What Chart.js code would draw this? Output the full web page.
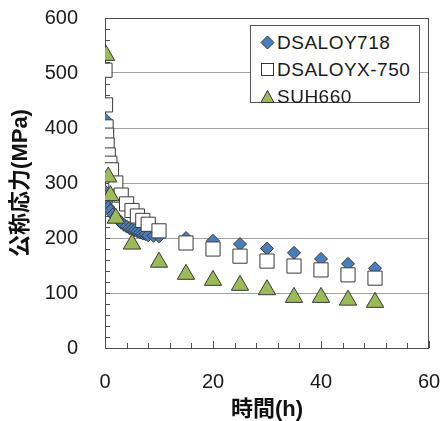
<!DOCTYPE html>
<html>
<head>
<meta charset="utf-8">
<script src="https://cdn.jsdelivr.net/npm/chart.js@4"></script>
<style>
    body { margin: 0; background: #fff; }
    #wrap { position: relative; width: 448px; height: 421px; }
    #legend {
        position: absolute; left: 250px; top: 25px; width: 170px; height: 78px;
        border: 1px solid #555; background: #fff; padding-top: 3px; box-sizing: border-box;
        font-family: 'Liberation Sans', Arial, sans-serif; font-size: 19px; color: #1a1a1a;
    }
    #legend .row { height: 27px; display: flex; align-items: center; padding-left: 9px; letter-spacing: 0.5px; }
    #legend svg { margin-right: 2px; flex: none; }
</style>
</head>
<body>
<div id="wrap">
    <canvas id="chart" width="448" height="421"></canvas>
    <div id="legend">
        <div class="row"><svg width="15" height="15"><polygon points="7.5,1 14,7.5 7.5,14 1,7.5" fill="#4a7ebb" stroke="#333" stroke-width="1"/></svg>DSALOY718</div>
        <div class="row"><svg width="15" height="15"><rect x="1.5" y="1.5" width="12" height="12" fill="#fff" stroke="#333" stroke-width="1"/></svg>DSALOYX-750</div>
        <div class="row"><svg width="15" height="15"><polygon points="7.5,1.5 14,13.5 1,13.5" fill="#9bbb59" stroke="#333" stroke-width="1"/></svg>SUH660</div>
    </div>
</div>
<script>
document.addEventListener('DOMContentLoaded', () => {

    // 読み取った値 (時間 h, 公称応力 MPa)
    const seriesNames = ['DSALOY718', 'DSALOYX-750', 'SUH660'];

    const dsaloy718Hours = [0.1, 0, 0.1, 0.3, 0.6, 1, 1.5, 2, 2.5, 3, 3.5, 4, 4.5, 5, 5.5, 6, 6.5, 7, 7.5, 8, 9, 10, 15, 20, 25, 30, 35, 40, 45, 50];
    const dsaloy718Stress = [415, 285, 275, 265, 256, 250, 243, 238, 233, 228, 224, 221, 218, 216, 214, 212, 210, 208, 207, 205, 204, 203, 200, 195, 189, 181, 173, 162, 153, 145];

    const dsaloyX750Hours = [0, 0.1, 0.2, 0.3, 0.4, 0.6, 0.9, 1.2, 2, 3, 4, 5, 6, 7, 8, 10, 15, 20, 25, 30, 35, 40, 45, 50];
    const dsaloyX750Stress = [505, 442, 402, 387, 369, 351, 336, 324, 300, 278, 262, 250, 240, 232, 225, 213, 191, 180, 167, 158, 149, 142, 133, 127];

    const suh660Hours = [0.2, 0.6, 1, 2, 5, 10, 15, 20, 25, 30, 35, 40, 45, 50];
    const suh660Stress = [532, 311, 277, 236, 189, 156, 134, 123, 114, 106, 92, 92, 87, 83];

    const xTicks = [0, 20, 40, 60];
    const yTicks = [0, 100, 200, 300, 400, 500, 600];

    const toPoints = (xs, ys) => xs.map((x, i) => ({ x: x, y: ys[i] }));

    const edge = '#4d4d4d';
    const labelFont = { family: "'Liberation Sans', Arial, sans-serif", size: 20 };
    const titleFont = { family: "'Liberation Sans', 'Noto Sans CJK JP', sans-serif", size: 22, weight: 'bold', lineHeight: 1 };

    // 枠線と内向きの目盛り
    const frameTicks = {
        id: 'frameTicks',
        beforeDatasetsDraw(chart) {
            const { ctx, chartArea: a, scales: { x, y } } = chart;
            ctx.save();
            ctx.strokeStyle = edge;
            ctx.lineWidth = 1;
            ctx.strokeRect(Math.round(a.left) + 0.5, Math.round(a.top) + 0.5,
                Math.round(a.right - a.left) - 1, Math.round(a.bottom - a.top));
            ctx.beginPath();
            for (let v = 0; v <= 600; v += 20) {
                const py = Math.round(y.getPixelForValue(v)) + 0.5;
                ctx.moveTo(a.left, py);
                ctx.lineTo(a.left + 5, py);
            }
            for (let h = 0; h <= 60; h += 4) {
                const px = Math.round(x.getPixelForValue(h)) + 0.5;
                const len = h % 20 === 0 ? 7 : 5;
                ctx.moveTo(px, a.bottom);
                ctx.lineTo(px, a.bottom - len);
            }
            ctx.stroke();
            ctx.restore();
        }
    };

    new Chart(document.getElementById('chart'), {
        type: 'scatter',
        data: {
            datasets: [
                {
                    label: seriesNames[0],
                    data: toPoints(dsaloy718Hours, dsaloy718Stress),
                    pointStyle: 'rectRot',
                    pointRadius: 6.5,
                    backgroundColor: '#4a7ebb',
                    borderColor: '#3a3a3a',
                    borderWidth: 1,
                    order: 3
                },
                {
                    label: seriesNames[1],
                    data: toPoints(dsaloyX750Hours, dsaloyX750Stress),
                    pointStyle: 'rect',
                    pointRadius: 10,
                    backgroundColor: '#ffffff',
                    borderColor: '#3a3a3a',
                    borderWidth: 1,
                    order: 2
                },
                {
                    label: seriesNames[2],
                    data: toPoints(suh660Hours, suh660Stress),
                    pointStyle: 'triangle',
                    pointRadius: 10,
                    backgroundColor: '#9bbb59',
                    borderColor: '#3a3a3a',
                    borderWidth: 1,
                    order: 1
                }
            ]
        },
        options: {
            responsive: false,
            animation: false,
            layout: { padding: { left: 0, right: 19, top: 18, bottom: 0 } },
            plugins: { legend: { display: false }, tooltip: { enabled: false } },
            scales: {
                x: {
                    type: 'linear',
                    min: 0, max: 60,
                    afterFit: (s) => { s.height = 73; s.paddingLeft = 0; s.paddingRight = 0; },
                    afterBuildTicks: (s) => { s.ticks = xTicks.map(v => ({ value: v })); },
                    grid: { display: false, drawTicks: false },
                    border: { display: false },
                    ticks: { padding: 22, font: labelFont, color: '#1a1a1a', maxRotation: 0 },
                    title: { display: true, text: '時間(h)', font: titleFont, color: '#111', padding: { top: 0, bottom: 0 } }
                },
                y: {
                    type: 'linear',
                    min: 0, max: 600,
                    afterFit: (s) => { s.width = 105; s.paddingTop = 0; s.paddingBottom = 0; },
                    afterBuildTicks: (s) => { s.ticks = yTicks.map(v => ({ value: v })); },
                    grid: {
                        drawTicks: false,
                        color: (c) => (c.tick && (c.tick.value === 0 || c.tick.value === 600)) ? 'rgba(0,0,0,0)' : '#a3a3a3'
                    },
                    border: { display: false },
                    ticks: { padding: 27, font: labelFont, color: '#1a1a1a' },
                    title: { display: true, text: '公称応力(MPa)', font: titleFont, color: '#111', padding: { top: 10, bottom: 0 } }
                }
            }
        },
        plugins: [frameTicks]
    });
});
</script>
</body>
</html>
